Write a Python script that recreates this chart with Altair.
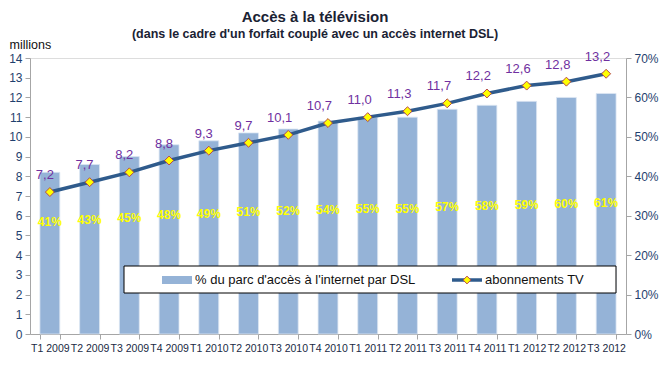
import altair as alt
import pandas as pd

quarters = ["T1 2009", "T2 2009", "T3 2009", "T4 2009", "T1 2010", "T2 2010", "T3 2010",
            "T4 2010", "T1 2011", "T2 2011", "T3 2011", "T4 2011", "T1 2012", "T2 2012", "T3 2012"]
pct_dsl = [41, 43, 45, 48, 49, 51, 52, 54, 55, 55, 57, 58, 59, 60, 61]
tv_millions = [7.2, 7.7, 8.2, 8.8, 9.3, 9.7, 10.1, 10.7, 11.0, 11.3, 11.7, 12.2, 12.6, 12.8, 13.2]

legend_bar = "% du parc d'accès à l'internet par DSL"
legend_line = "abonnements TV"

df = pd.DataFrame({
    "q": quarters,
    "pct": pct_dsl,
    "tv": tv_millions,
    "pct_label": [f"{p}%" for p in pct_dsl],
    "tv_label": [f"{v:.1f}".replace(".", ",") for v in tv_millions],
})

FONT = "Liberation Sans"
BAR = "#95B3D7"
LINE = "#2F5B8C"
AXIS_GRAY = "#A6A6A6"
LABEL_BLUE = "#1F3F6E"

x_axis = alt.Axis(labelAngle=0, tickBand="extent", tickSize=5, domainColor=AXIS_GRAY,
                  tickColor=AXIS_GRAY, labelColor="#1a2a44", labelFontSize=10.5,
                  labelPadding=4, labelOverlap=False, labelFont=FONT)
x_enc = alt.X("q:N", sort=quarters, title=None,
              scale=alt.Scale(paddingInner=0.5, paddingOuter=0.25), axis=x_axis)

right_axis = alt.Axis(orient="right", values=list(range(0, 71, 10)), labelExpr="datum.value + '%'",
                      grid=False, domainColor=AXIS_GRAY, tickColor=AXIS_GRAY, tickSize=5,
                      labelColor=LABEL_BLUE, labelFontSize=12, labelPadding=3, labelFont=FONT,
                      title=None)
left_axis = alt.Axis(orient="left", values=list(range(0, 15)), grid=False,
                     domainColor=AXIS_GRAY, tickColor=AXIS_GRAY, tickSize=5,
                     labelColor=LABEL_BLUE, labelFontSize=12, labelPadding=3, labelFont=FONT,
                     title="millions", titleAngle=0, titleX=-21, titleY=-14,
                     titleAlign="left", titleBaseline="middle", titleFontWeight="normal",
                     titleFontSize=12.5, titleColor="#111111", titleFont=FONT)

pct_scale = alt.Scale(domain=[0, 70])
tv_scale = alt.Scale(domain=[0, 14])

bars = alt.Chart(df).mark_bar(color=BAR, stroke="#DCE6F2", strokeWidth=0.8).encode(
    x=x_enc,
    y=alt.Y("pct:Q", scale=pct_scale, axis=right_axis, title=None),
)

pct_text = alt.Chart(df).transform_calculate(
    lab_y="datum.pct * 0.24 + 18.6"
).mark_text(color="#FFFF00", fontWeight="bold", fontSize=12, font=FONT, baseline="middle").encode(
    x=x_enc,
    y=alt.Y("lab_y:Q", scale=pct_scale, axis=right_axis, title=None),
    text="pct_label:N",
)

bar_layer = alt.layer(bars, pct_text)

line = alt.Chart(df).mark_line(color=LINE, strokeWidth=3.5).encode(
    x=x_enc,
    y=alt.Y("tv:Q", scale=tv_scale, axis=left_axis),
)

points = alt.Chart(df).mark_point(shape="diamond", filled=True, fill="#FFFF00", stroke="#B5484A",
                                  strokeWidth=1, size=80, opacity=1).encode(
    x=x_enc,
    y=alt.Y("tv:Q", scale=tv_scale, axis=left_axis),
)

tv_text = alt.Chart(df).mark_text(color="#7030A0", fontSize=13, font=FONT, align="right",
                                  baseline="middle", dx=4, dy=-17).encode(
    x=x_enc,
    y=alt.Y("tv:Q", scale=tv_scale, axis=left_axis),
    text="tv_label:N",
)

line_layer = alt.layer(line, points, tv_text)

one = pd.DataFrame({"a": [0]})
leg_box = alt.Chart(one).mark_rect(fill="white", stroke="black", strokeWidth=1).encode(
    x=alt.value(94), x2=alt.value(586), y=alt.value(208), y2=alt.value(235))
leg_swatch = alt.Chart(one).mark_rect(fill=BAR).encode(
    x=alt.value(132), x2=alt.value(162), y=alt.value(218), y2=alt.value(226))
leg_text1 = alt.Chart(one).mark_text(align="left", baseline="middle", fontSize=13, font=FONT,
                                     color="#111111", text=legend_bar).encode(
    x=alt.value(165), y=alt.value(222))
leg_rule = alt.Chart(one).mark_rule(color=LINE, strokeWidth=3.5).encode(
    x=alt.value(422), x2=alt.value(452), y=alt.value(222))
leg_pt = alt.Chart(one).mark_point(shape="diamond", filled=True, fill="#FFFF00", stroke="#B5484A",
                                   strokeWidth=1, size=60, opacity=1).encode(
    x=alt.value(437), y=alt.value(222))
leg_text2 = alt.Chart(one).mark_text(align="left", baseline="middle", fontSize=13, font=FONT,
                                     color="#111111", text=legend_line).encode(
    x=alt.value(455), y=alt.value(222))

chart = alt.layer(
    bar_layer, line_layer, leg_box, leg_swatch, leg_text1, leg_rule, leg_pt, leg_text2
).resolve_scale(y="independent").properties(
    width=596, height=276,
    autosize=alt.AutoSizeParams(type="none"),
    padding={"left": 22, "top": 50, "right": 35, "bottom": 27},
    title=alt.TitleParams(
        text="Accès à la télévision",
        subtitle="(dans le cadre d'un forfait couplé avec un accès internet DSL)",
        anchor="middle", frame="group", dx=-13, offset=-2,
        font=FONT, fontSize=15, fontWeight="bold", color="#1a2233",
        subtitleFont=FONT, subtitleFontSize=12.5, subtitleFontWeight="bold",
        subtitleColor="#1a2233", subtitlePadding=3,
    ),
).configure_view(strokeWidth=0).configure(background="white")

chart.save("out.html", embed_options={"renderer": "svg", "actions": False})
